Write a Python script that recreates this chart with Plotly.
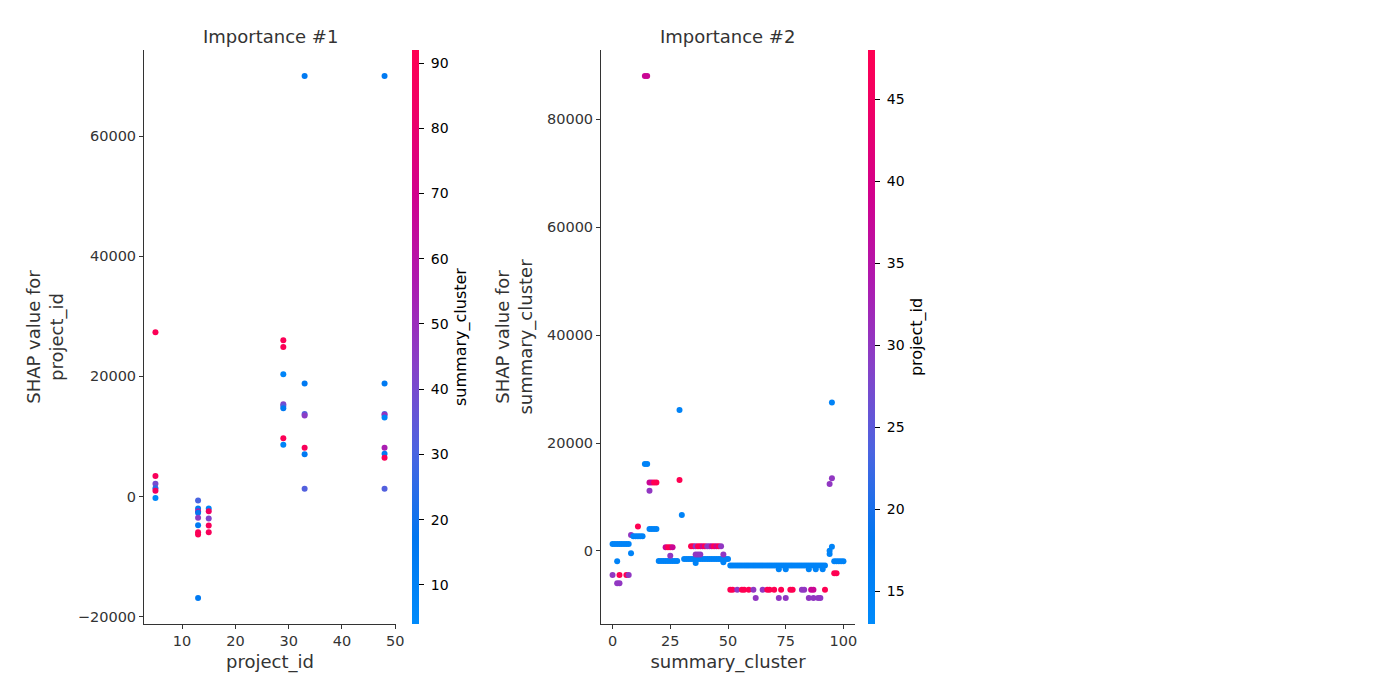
import plotly.graph_objects as go

# Importance #1 : SHAP value for project_id, coloured by summary_cluster
pid_project_id = [5, 5, 5, 5, 5, 5,
                  13, 13, 13, 13, 13, 13, 13, 13, 13,
                  15, 15, 15, 15, 15,
                  29, 29, 29, 29, 29, 29, 29, 29,
                  33, 33, 33, 33, 33, 33, 33,
                  48, 48, 48, 48, 48, 48, 48, 48, 48]
pid_shap = [27350, 3400, 2100, 1350, 950, -250,
            -650, -2000, -2450, -2700, -3550, -4800, -5950, -6350, -16900,
            -2000, -2450, -3650, -4850, -5950,
            26000, 24900, 20350, 15350, 15050, 14700, 9700, 8600,
            70000, 18800, 13750, 13500, 8100, 7050, 1300,
            70000, 18800, 13750, 13550, 13150, 8100, 7100, 6450, 1300]
pid_cluster = [90, 88, 40, 25, 85, 5,
               30, 15, 60, 18, 45, 15, 88, 90, 15,
               8, 85, 42, 88, 88,
               90, 90, 8, 42, 35, 15, 90, 8,
               15, 15, 32, 45, 88, 15, 32,
               15, 15, 32, 50, 8, 55, 15, 88, 32]

# Importance #2 : SHAP value for summary_cluster, coloured by project_id
sc_summary_cluster = [
    0, 1, 2, 3, 4, 5, 6, 7,
    2, 8, 8, 9, 10, 11, 12, 13, 11,
    0, 3, 6, 7, 2, 3,
    14, 15, 14, 15,
    16, 17, 18, 19, 16,
    16, 17, 18, 19,
    20, 21, 22, 23, 24, 25, 26, 27, 28,
    23, 24, 25, 26, 25,
    29, 29, 30,
    31, 32, 33, 34, 35, 36, 37, 38, 39, 40, 41, 42, 43, 44, 45, 46, 47, 48, 49, 50,
    36, 48,
    34, 35, 36, 37, 38, 39, 40, 41, 42, 43, 44, 45, 46, 47,
    36, 37, 38, 48,
    51, 52, 53, 54, 55, 56, 57, 58, 59, 60, 61, 62, 63, 64, 65, 66, 67, 68, 69, 70, 71,
    72, 73, 74, 75, 76, 77, 78, 79, 80, 81, 82, 83, 84, 85, 86, 87, 88, 89, 90, 91, 92,
    72, 75, 85, 88, 91,
    51, 52, 54, 56, 57, 59, 61, 65, 67, 68, 70, 73, 77, 78, 82, 83, 86, 87, 92,
    62, 72, 75, 85, 87, 89, 90,
    94, 94, 95, 95, 94, 95,
    96, 97, 98, 99, 100,
    96, 97]
sc_shap = [
    1300, 1300, 1300, 1300, 1300, 1300, 1300, 1300,
    -1900, -450, 2950, 2700, 2700, 2700, 2700, 2700, 4550,
    -4450, -4450, -4450, -4450, -6000, -6000,
    16100, 16100, 88000, 88000,
    12700, 12700, 12700, 12700, 11150,
    4070, 4070, 4070, 4070,
    -1850, -1850, -1850, -1850, -1850, -1850, -1850, -1850, -1850,
    680, 680, 680, 680, -870,
    26100, 13150, 6650,
    -1480, -1480, -1480, -1480, -1480, -1480, -1480, -1480, -1480, -1480,
    -1480, -1480, -1480, -1480, -1480, -1480, -1480, -1480, -1480, -1480,
    -2220, -2100,
    850, 850, 850, 850, 850, 850, 850, 850, 850, 850, 850, 850, 850, 850,
    -680, -680, -680, -650,
    -2720, -2720, -2720, -2720, -2720, -2720, -2720, -2720, -2720, -2720, -2720,
    -2720, -2720, -2720, -2720, -2720, -2720, -2720, -2720, -2720, -2720,
    -2720, -2720, -2720, -2720, -2720, -2720, -2720, -2720, -2720, -2720, -2720,
    -2720, -2720, -2720, -2720, -2720, -2720, -2720, -2720, -2720, -2720,
    -3400, -3400, -3400, -3400, -3400,
    -7170, -7170, -7170, -7170, -7170, -7170, -7170, -7170, -7170, -7170,
    -7170, -7170, -7170, -7170, -7170, -7170, -7170, -7170, -7170,
    -8700, -8700, -8700, -8700, -8700, -8700, -8700,
    -550, 50, 800, 27500, 12400, 13450,
    -1920, -1920, -1920, -1920, -1920,
    -4150, -4150]
sc_project_id = [
    15, 15, 15, 15, 15, 15, 15, 15,
    15, 15, 30, 15, 15, 15, 15, 15, 48,
    30, 48, 48, 30, 30, 30,
    15, 15, 38, 38,
    38, 38, 48, 48, 30,
    15, 15, 15, 15,
    15, 15, 15, 15, 15, 15, 15, 15, 15,
    38, 48, 48, 38, 30,
    15, 48, 15,
    15, 15, 15, 15, 15, 15, 15, 15, 15, 15, 15, 15, 15, 15, 15, 15, 15, 15, 15, 15,
    15, 15,
    48, 48, 30, 48, 48, 38, 48, 30, 30, 38, 48, 38, 48, 30,
    30, 30, 30, 30,
    15, 15, 15, 15, 15, 15, 15, 15, 15, 15, 15, 15, 15, 15, 15, 15, 15, 15, 15, 15, 15,
    15, 15, 15, 15, 15, 15, 15, 15, 15, 15, 15, 15, 15, 15, 15, 15, 15, 15, 15, 15, 15,
    15, 15, 15, 15, 15,
    48, 48, 30, 48, 48, 48, 30, 30, 48, 48, 48, 48, 48, 48, 30, 30, 38, 38, 48,
    30, 30, 30, 30, 30, 30, 30,
    15, 15, 15, 15, 30, 30,
    15, 15, 15, 15, 15,
    48, 48]

pid_xticks = [10, 20, 30, 40, 50]
pid_yticks = [-20000, 0, 20000, 40000, 60000]
sc_xticks = [0, 25, 50, 75, 100]
sc_yticks = [0, 20000, 40000, 60000, 80000]
cluster_cbar_ticks = [10, 20, 30, 40, 50, 60, 70, 80, 90]
project_cbar_ticks = [15, 20, 25, 30, 35, 40, 45]

# approximation of the shap red_blue colormap
red_blue = [
    [0.0, "rgb(0,139,251)"],
    [0.15, "rgb(0,118,240)"],
    [0.3, "rgb(75,100,225)"],
    [0.45, "rgb(135,65,200)"],
    [0.6, "rgb(175,25,175)"],
    [0.75, "rgb(210,0,140)"],
    [0.9, "rgb(240,0,100)"],
    [1.0, "rgb(255,0,82)"],
]

W, H = 1400, 700
OFF = 8  # the page body margin shifts the figure by 8px
FONT = "DejaVu Sans"
GREY = "#333333"


def px_x(p):
    return (p - OFF) / W


def px_y(p):
    return 1 - (p - OFF) / H


def tick_text(vals):
    return [str(v).replace("-", "\u2212") for v in vals]


def colorbar(left_px, ticks, title):
    return dict(
        x=px_x(left_px), xanchor="left", xref="paper",
        y=px_y(337), yanchor="middle", len=574 / H, lenmode="fraction",
        thickness=7, outlinewidth=0, xpad=0, ypad=0,
        tickmode="array", tickvals=ticks, ticktext=["\u00a0" + str(t) for t in ticks],
        ticks="outside", ticklen=5, tickcolor="black", tickwidth=1,
        tickfont=dict(family=FONT, size=14, color="black"),
        title=dict(text=title, side="right", font=dict(family=FONT, size=16, color="black")),
    )


fig = go.Figure()

fig.add_trace(go.Scatter(
    x=pid_project_id, y=pid_shap, mode="markers", xaxis="x", yaxis="y",
    marker=dict(size=6, color=pid_cluster, colorscale=red_blue, cmin=4, cmax=92,
                line=dict(width=0), colorbar=colorbar(412, cluster_cbar_ticks, "summary_cluster")),
    showlegend=False, hoverinfo="skip",
))

fig.add_trace(go.Scatter(
    x=sc_summary_cluster, y=sc_shap, mode="markers", xaxis="x2", yaxis="y2",
    marker=dict(size=6, color=sc_project_id, colorscale=red_blue, cmin=13, cmax=48,
                line=dict(width=0), colorbar=colorbar(868, project_cbar_ticks, "project_id")),
    showlegend=False, hoverinfo="skip",
))

axis_style = dict(
    showline=True, linecolor=GREY, linewidth=1, mirror=False,
    ticks="outside", ticklen=4, tickcolor=GREY, tickwidth=1,
    showgrid=False, zeroline=False, automargin=False,
    tickfont=dict(family=FONT, size=14.5, color=GREY),
    tickmode="array",
)
ydom = [px_y(624), px_y(50)]

fig.update_layout(
    width=W, height=H,
    margin=dict(l=0, r=0, t=0, b=0, autoexpand=False),
    paper_bgcolor="white", plot_bgcolor="white",
    font=dict(family=FONT, color=GREY),
    xaxis=dict(axis_style, domain=[px_x(144), px_x(396)], range=[2.85, 50.15],
               tickvals=pid_xticks, ticktext=tick_text(pid_xticks),
               title=dict(text="project_id", font=dict(size=18, color=GREY), standoff=6)),
    yaxis=dict(axis_style, domain=ydom, range=[-21233, 74344],
               tickvals=pid_yticks, ticktext=tick_text(pid_yticks),
               title=dict(text="SHAP value for<br>project_id", font=dict(size=18, color=GREY), standoff=9)),
    xaxis2=dict(axis_style, domain=[px_x(601), px_x(855)], range=[-5, 105], anchor="y2",
                tickvals=sc_xticks, ticktext=tick_text(sc_xticks),
                title=dict(text="summary_cluster", font=dict(size=18, color=GREY), standoff=6)),
    yaxis2=dict(axis_style, domain=ydom, range=[-13539, 92835], anchor="x2",
                tickvals=sc_yticks, ticktext=tick_text(sc_yticks),
                title=dict(text="SHAP value for<br>summary_cluster", font=dict(size=18, color=GREY), standoff=9)),
    annotations=[
        dict(text="Importance #1", x=px_x(270), y=px_y(36), xref="paper", yref="paper",
             xanchor="center", yanchor="middle",
             showarrow=False, font=dict(family=FONT, size=18, color=GREY)),
        dict(text="Importance #2", x=px_x(728), y=px_y(36), xref="paper", yref="paper",
             xanchor="center", yanchor="middle",
             showarrow=False, font=dict(family=FONT, size=18, color=GREY)),
    ],
)

fig.write_html("out.html")
